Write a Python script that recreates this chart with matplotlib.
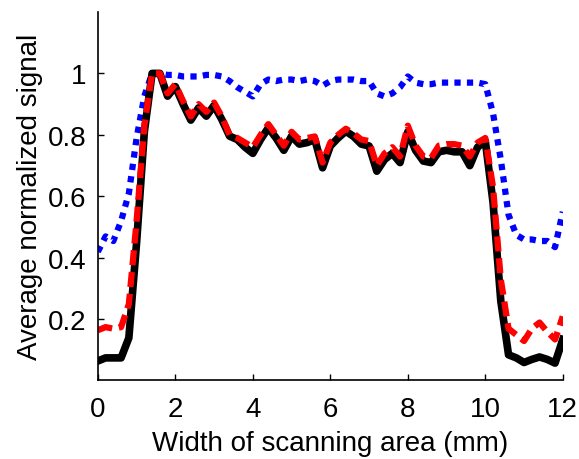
import numpy as np
import matplotlib.pyplot as plt

plt.rcParams['font.family'] = ['Liberation Sans', 'DejaVu Sans']

# scan position (mm), 0.2 mm steps
x = np.arange(61) * 0.2

black = [0.065, 0.075, 0.075, 0.075, 0.14, 0.45, 0.81, 1.0, 1.0, 0.926,
         0.957, 0.90, 0.848, 0.888, 0.861, 0.896, 0.85, 0.796, 0.785, 0.76,
         0.74, 0.785, 0.823, 0.79, 0.75, 0.796, 0.77, 0.775, 0.785, 0.693,
         0.764, 0.79, 0.812, 0.795, 0.77, 0.764, 0.682, 0.72, 0.74, 0.71,
         0.81, 0.75, 0.715, 0.71, 0.745, 0.75, 0.745, 0.745, 0.70, 0.76,
         0.78, 0.58, 0.26, 0.085, 0.075, 0.06, 0.07, 0.078, 0.07, 0.058,
         0.135]

red = [0.165, 0.175, 0.17, 0.175, 0.25, 0.52, 0.83, 1.0, 1.0, 0.935,
       0.965, 0.91, 0.86, 0.9, 0.875, 0.905, 0.86, 0.80, 0.79, 0.775,
       0.76, 0.80, 0.835, 0.80, 0.765, 0.81, 0.785, 0.79, 0.795, 0.71,
       0.775, 0.80, 0.82, 0.805, 0.785, 0.78, 0.70, 0.74, 0.76, 0.73,
       0.83, 0.765, 0.73, 0.725, 0.765, 0.77, 0.77, 0.765, 0.73, 0.775,
       0.79, 0.63, 0.33, 0.17, 0.15, 0.13, 0.17, 0.19, 0.16, 0.135,
       0.21]

blue = [0.42, 0.47, 0.455, 0.52, 0.61, 0.79, 0.926, 1.0, 1.0, 0.995,
        0.995, 0.99, 0.99, 0.99, 0.995, 0.995, 0.99, 0.975, 0.955, 0.94,
        0.925, 0.965, 0.98, 0.975, 0.98, 0.98, 0.975, 0.98, 0.975, 0.96,
        0.975, 0.98, 0.98, 0.98, 0.975, 0.975, 0.935, 0.925, 0.935, 0.955,
        0.99, 0.97, 0.965, 0.965, 0.97, 0.97, 0.97, 0.97, 0.97, 0.97,
        0.965, 0.87, 0.72, 0.54, 0.475, 0.46, 0.46, 0.455, 0.455, 0.435,
        0.55]

yticks = [0.2, 0.4, 0.6, 0.8, 1.0]
ytick_labels = ['0.2', '0.4', '0.6', '0.8', '1']
xticks = [0, 2, 4, 6, 8, 10, 12]

fig = plt.figure(figsize=(5.79, 4.6), dpi=100)
ax = fig.add_axes([0.169, 0.171, 0.803, 0.801])

lw = 4.5
ax.plot(x, blue, color='#0000ff', lw=lw, dashes=(1, 1))
ax.plot(x, black, color='black', lw=lw + 1)
ax.plot(x, red, color='#ff0000', lw=lw, dashes=(2.4, 1.1))

ax.set_xlim(0, 12)
ax.set_ylim(0.002, 1.2)
ax.set_xticks(xticks)
ax.set_xticklabels([str(t) for t in xticks])
ax.set_yticks(yticks)
ax.set_yticklabels(ytick_labels)
ax.tick_params(direction='in', labelsize=20, length=4, width=1)
ax.tick_params(axis='x', pad=11)
ax.tick_params(axis='y', pad=8)
for side in ['top', 'right']:
    ax.spines[side].set_visible(False)
for side in ['left', 'bottom']:
    ax.spines[side].set_linewidth(1.2)

ax.set_xlabel('Width of scanning area (mm)', fontsize=20, labelpad=6)
ax.set_ylabel('Average normalized signal', fontsize=20, labelpad=4)

fig.savefig('out.png', dpi=100)
